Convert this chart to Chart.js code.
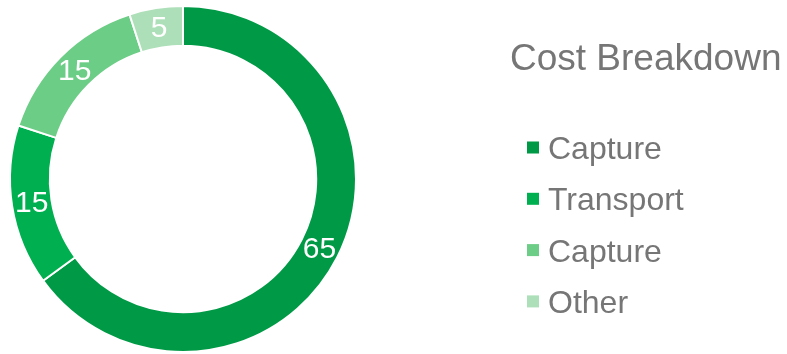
<!DOCTYPE html>
<html>
<head>
<meta charset="utf-8">
<title>Cost Breakdown</title>
<script src="https://cdn.jsdelivr.net/npm/chart.js@4"></script>
<style>
  html, body { margin: 0; padding: 0; background: #fff; }
  #wrap { width: 787px; height: 354px; position: relative; }
</style>
</head>
<body>
<div id="wrap"><canvas id="costChart"></canvas></div>
<script>
var categories = ["Capture", "Transport", "Capture", "Other"];
var costShare = [65, 15, 15, 5];
var sliceColors = ["#009a46", "#00b050", "#6ccd86", "#addfb8"];
var chartTitle = "Cost Breakdown";

var FONT = "'Liberation Sans', Arial, sans-serif";
var GREY = "#767676";

// white numbers in the middle of each ring slice
var sliceLabels = {
    id: 'sliceLabels',
    afterDatasetsDraw: function (chart) {
        var ctx = chart.ctx;
        var meta = chart.getDatasetMeta(0);
        ctx.save();
        ctx.font = "30px " + FONT;
        ctx.fillStyle = "#fff";
        ctx.textAlign = "center";
        ctx.textBaseline = "middle";
        meta.data.forEach(function (arc, i) {
            var p = arc.tooltipPosition();
            ctx.fillText(String(chart.data.datasets[0].data[i]), p.x, p.y + 1);
        });
        ctx.restore();
    }
};

// title and legend list to the right of the ring
var sideLegend = {
    id: 'sideLegend',
    afterDraw: function (chart) {
        var ctx = chart.ctx;
        var ds = chart.data.datasets[0];
        ctx.save();
        ctx.textAlign = "left";
        ctx.textBaseline = "alphabetic";
        ctx.fillStyle = GREY;
        ctx.font = "37px " + FONT;
        ctx.fillText(chartTitle, 510, 69.5);

        ctx.font = "32px " + FONT;
        chart.data.labels.forEach(function (lbl, i) {
            var base = 159 + i * 51.3;
            ctx.fillStyle = ds.backgroundColor[i];
            ctx.fillRect(527, base - 17.5, 12, 12);
            ctx.fillStyle = GREY;
            ctx.fillText(lbl, 548, base);
        });
        ctx.restore();
    }
};

new Chart(document.getElementById('costChart'), {
    type: 'doughnut',
    data: {
        labels: categories,
        datasets: [{
            data: costShare,
            backgroundColor: sliceColors,
            borderColor: "#fff",
            borderWidth: 2
        }]
    },
    options: {
        responsive: true,
        maintainAspectRatio: false,
        animation: false,
        cutout: '77%',
        layout: { padding: { left: 9, right: 430, top: 5, bottom: 1 } },
        plugins: {
            legend: { display: false },
            tooltip: { enabled: false }
        }
    },
    plugins: [sliceLabels, sideLegend]
});
</script>
</body>
</html>
